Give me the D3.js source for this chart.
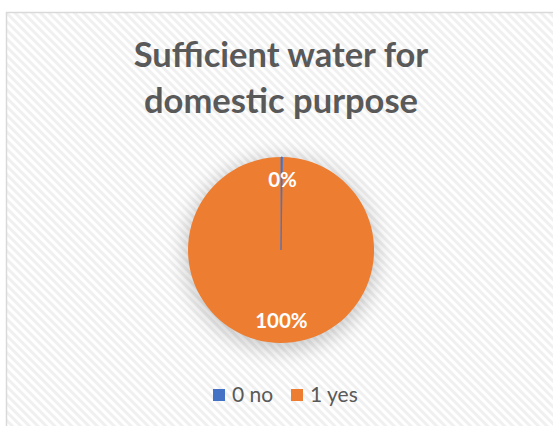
<!DOCTYPE html>
<html>
<head>
<meta charset="utf-8">
<script src="https://cdn.jsdelivr.net/npm/d3@7"></script>
<style>
  html, body { margin: 0; padding: 0; background: #fff; }
  svg { display: block; }
</style>
</head>
<body>
<svg id="chart" width="553" height="426"></svg>
<script>
// Survey answers: is there sufficient water for domestic purpose?
const categories = ["0 no", "1 yes"];
const counts = [1, 399];
const percentLabels = ["0%", "100%"];
const colors = ["#4472C4", "#ED7D31"];
const titleLines = ["Sufficient water for", "domestic purpose"];

const svg = d3.select("#chart");
const W = 553, H = 426;
const font = "Lato, 'Open Sans', sans-serif";

const defs = svg.append("defs");

// Diagonal hatch fill for the chart area
const pat = defs.append("pattern")
  .attr("id", "hatch")
  .attr("patternUnits", "userSpaceOnUse")
  .attr("width", 6).attr("height", 6)
  .attr("patternTransform", "rotate(-45)");
pat.append("rect").attr("width", 6).attr("height", 6).attr("fill", "#ffffff");
pat.append("rect").attr("x", 0).attr("width", 3).attr("height", 6).attr("fill", "#f0f0f0");

// Soft shadow behind the pie
const blur = defs.append("filter").attr("id", "soft")
  .attr("x", "-50%").attr("y", "-50%").attr("width", "200%").attr("height", "200%");
blur.append("feGaussianBlur").attr("stdDeviation", 10);

// Chart frame
svg.append("rect")
  .attr("x", 6.5).attr("y", 12.5)
  .attr("width", W + 20).attr("height", H + 20)
  .attr("fill", "url(#hatch)")
  .attr("stroke", "#d9d9d9").attr("stroke-width", 1.5);

// Title
svg.append("g").selectAll("text")
  .data(titleLines)
  .join("text")
  .attr("x", 281)
  .attr("y", (d, i) => 67 + i * 46)
  .attr("text-anchor", "middle")
  .attr("font-family", font)
  .attr("font-weight", "bold")
  .attr("font-size", 34.5)
  .attr("fill", "#595959")
  .text(d => d);

// Pie
const cx = 281, cy = 250, r = 93;
const pie = d3.pie().sort(null).value(d => d)(counts);
const arc = d3.arc().innerRadius(0).outerRadius(r);
const labelArc = d3.arc().innerRadius(r * 0.76).outerRadius(r * 0.76);
const g = svg.append("g").attr("transform", `translate(${cx},${cy})`);

g.append("circle")
  .attr("cx", 0).attr("cy", 4).attr("r", r + 3)
  .attr("fill", "#000").attr("opacity", 0.2)
  .attr("filter", "url(#soft)");

// Draw the large slice first so the thin one stays visible on top
g.selectAll("path.slice")
  .data(pie.slice().reverse())
  .join("path")
  .attr("class", "slice")
  .attr("d", arc)
  .attr("fill", d => colors[d.index])
  .attr("stroke", d => d.index === 0 ? colors[0] : "none")
  .attr("stroke-width", 0.8);

// Percentage labels placed inside the slices
g.selectAll("text.pct")
  .data(pie)
  .join("text")
  .attr("class", "pct")
  .attr("x", d => labelArc.centroid(d)[0] + 1)
  .attr("y", d => labelArc.centroid(d)[1])
  .attr("dy", "0.36em")
  .attr("text-anchor", "middle")
  .attr("font-family", font)
  .attr("font-weight", "bold")
  .attr("font-size", 20.5)
  .attr("fill", "#ffffff")
  .text((d, i) => percentLabels[i]);

// Legend
const legendItems = [
  { x: 213, tx: 232 },
  { x: 291, tx: 310 }
];
const lg = svg.append("g");
lg.selectAll("rect")
  .data(categories)
  .join("rect")
  .attr("x", (d, i) => legendItems[i].x)
  .attr("y", 389)
  .attr("width", 12).attr("height", 12)
  .attr("fill", (d, i) => colors[i]);
lg.selectAll("text")
  .data(categories)
  .join("text")
  .attr("x", (d, i) => legendItems[i].tx)
  .attr("y", 402)
  .attr("font-family", font)
  .attr("font-size", 21)
  .attr("fill", "#595959")
  .text(d => d);
</script>
</body>
</html>
